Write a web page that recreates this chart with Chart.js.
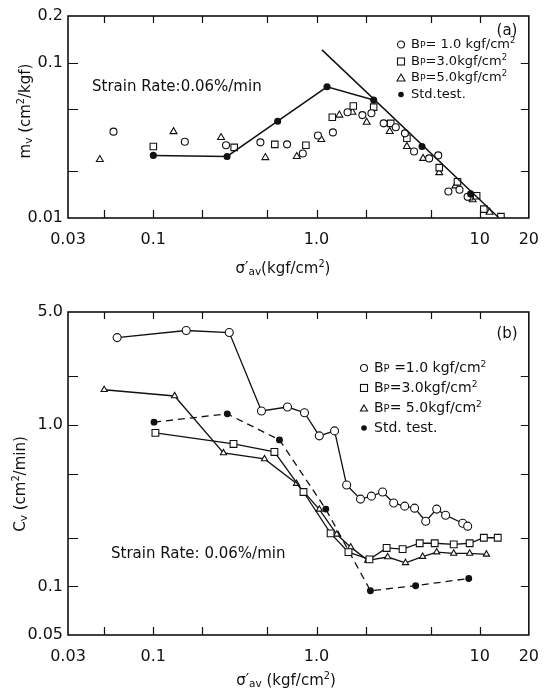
<!DOCTYPE html>
<html>
<head>
<meta charset="utf-8">
<script src="https://cdn.jsdelivr.net/npm/chart.js@4.4.0/dist/chart.umd.min.js"></script>
<style>
  body { margin: 0; background: #fff; }
  #page { position: relative; width: 551px; height: 692px; overflow: hidden; font-family: 'DejaVu Sans', sans-serif; color: #111; }
  canvas { position: absolute; left: 0; }
  #chartA { top: 0; }
  #chartB { top: 290px; }
  .t { position: absolute; white-space: nowrap; line-height: 1; }
  .c { transform: translate(-50%, -50%); }
  .l { transform: translateY(-50%); }
  .rot { transform: translate(-50%, -50%) rotate(-90deg); }
  .leg { font-size: 13px; }
  .leg svg { vertical-align: middle; margin-right: 5px; }
  .p { font-size: 0.72em; }
  sup { font-size: 0.65em; vertical-align: 0.55em; line-height: 0; }
  sub { font-size: 0.7em; vertical-align: -0.2em; line-height: 0; }
</style>
</head>
<body>
<div id="page">
  <canvas id="chartA" width="551" height="285"></canvas>
  <canvas id="chartB" width="551" height="402"></canvas>

  <!-- panel (a) text -->
  <div class="t c" style="left:507px; top:30px; font-size:15px;">(a)</div>
  <div class="t l" style="left:92px; top:86px; font-size:15px;">Strain Rate:0.06%/min</div>
  <div class="t rot" style="left:25px; top:111px; font-size:15px;">m<sub>v</sub> (cm<sup>2</sup>/kgf)</div>
  <div class="t c" style="left:283px; top:268px; font-size:15px;">σ′<sub>av</sub>(kgf/cm<sup>2</sup>)</div>
  <div class="t l leg" style="left:396px; top:43px;"><svg width="10" height="10"><circle cx="5" cy="5" r="3.5" fill="#fff" stroke="#111" stroke-width="1.1"/></svg>B<span class="p">P</span>= 1.0 kgf/cm<sup>2</sup></div>
  <div class="t l leg" style="left:396px; top:60px;"><svg width="10" height="10"><rect x="1.5" y="1.5" width="7" height="7" fill="#fff" stroke="#111" stroke-width="1.1"/></svg>B<span class="p">P</span>=3.0kgf/cm<sup>2</sup></div>
  <div class="t l leg" style="left:396px; top:76px;"><svg width="10" height="10"><polygon points="5,1.5 9,8.5 1,8.5" fill="#fff" stroke="#111" stroke-width="1.1"/></svg>B<span class="p">P</span>=5.0kgf/cm<sup>2</sup></div>
  <div class="t l leg" style="left:396px; top:93px;"><svg width="10" height="10"><circle cx="5" cy="5" r="2.8" fill="#111"/></svg>Std.test.</div>

  <!-- panel (b) text -->
  <div class="t c" style="left:507px; top:333px; font-size:15px;">(b)</div>
  <div class="t l" style="left:111px; top:553px; font-size:15px;">Strain Rate: 0.06%/min</div>
  <div class="t rot" style="left:20px; top:484px; font-size:15px;">C<sub>v</sub> (cm<sup>2</sup>/min)</div>
  <div class="t c" style="left:286px; top:680px; font-size:15px;">σ′<sub>av</sub> (kgf/cm<sup>2</sup>)</div>
  <div class="t l leg" style="left:359px; top:367px; font-size:14px;"><svg width="10" height="10"><circle cx="5" cy="5" r="3.5" fill="#fff" stroke="#111" stroke-width="1.1"/></svg>B<span class="p">P</span> =1.0 kgf/cm<sup>2</sup></div>
  <div class="t l leg" style="left:359px; top:387px; font-size:14px;"><svg width="10" height="10"><rect x="1.5" y="1.5" width="7" height="7" fill="#fff" stroke="#111" stroke-width="1.1"/></svg>B<span class="p">P</span>=3.0kgf/cm<sup>2</sup></div>
  <div class="t l leg" style="left:359px; top:407px; font-size:14px;"><svg width="10" height="10"><polygon points="5,2 8.5,8 1.5,8" fill="#fff" stroke="#111" stroke-width="1.1"/></svg>B<span class="p">P</span>= 5.0kgf/cm<sup>2</sup></div>
  <div class="t l leg" style="left:359px; top:427px; font-size:14px;"><svg width="10" height="10"><circle cx="5" cy="5" r="2.8" fill="#111"/></svg>Std. test.</div>
</div>

<script>
// axis ticks (shared x axis, per-panel y axis)
const xTicks = [0.03, 0.05, 0.1, 0.2, 0.5, 1, 2, 5, 10, 20];
const xTickText = ['0.03', '', '0.1', '', '', '1.0', '', '', '10', '20'];
const yTicksA = [0.01, 0.02, 0.05, 0.1, 0.2];
const yTickTextA = ['0.01', '', '', '0.1', '0.2'];
const yTicksB = [0.05, 0.1, 0.2, 0.5, 1, 2, 5];
const yTickTextB = ['0.05', '0.1', '', '', '1.0', '', '5.0'];

// panel (a): mv vs sigma'av  [x, y]
const mvBp1 = [[0.057,0.036],[0.156,0.031],[0.279,0.0294],[0.453,0.0307],[0.66,0.0298],[0.824,0.026],[1.02,0.034],[1.26,0.0356],[1.55,0.048],[1.91,0.046],[2.17,0.0473],[2.58,0.0407],[3.06,0.0384],[3.48,0.0351],[3.96,0.0268],[4.9,0.0242],[5.57,0.0253],[6.43,0.0148],[7.52,0.0152],[8.43,0.0137]];
const mvBp3 = [[0.1,0.0289],[0.313,0.0285],[0.555,0.0298],[0.861,0.0294],[1.25,0.0446],[1.68,0.0526],[2.24,0.0518],[2.85,0.0407],[3.58,0.0326],[5.65,0.0211],[7.31,0.0171],[8.67,0.0137],[9.58,0.0139],[10.6,0.0114],[13.5,0.0102]];
const mvBp5 = [[0.047,0.0238],[0.133,0.036],[0.26,0.033],[0.486,0.0245],[0.757,0.0249],[1.07,0.032],[1.38,0.046],[1.66,0.048],[2.03,0.0414],[2.81,0.0361],[3.58,0.0289],[4.5,0.0242],[5.65,0.0196],[7.1,0.0161],[9.05,0.0131],[11.5,0.0109]];
const mvStd = [[0.1,0.0253],[0.283,0.0249],[0.578,0.042],[1.16,0.070],[2.24,0.0575],[4.43,0.0289],[8.8,0.0143]];
const mvStdTrend = [[1.08,0.121],[13,0.0101]];

// panel (b): cv vs sigma'av  [x, y]
const cvBp1 = [[0.06,3.47],[0.159,3.84],[0.292,3.73],[0.46,1.22],[0.664,1.29],[0.844,1.19],[1.04,0.855],[1.29,0.918],[1.53,0.424],[1.86,0.347],[2.17,0.362],[2.54,0.384],[2.97,0.328],[3.47,0.314],[3.99,0.305],[4.67,0.253],[5.45,0.301],[6.18,0.276],[7.87,0.246],[8.44,0.236]];
const cvBp3 = [[0.103,0.892],[0.31,0.762],[0.552,0.68],[0.832,0.384],[1.22,0.213],[1.57,0.163],[2.11,0.147],[2.69,0.173],[3.37,0.170],[4.29,0.185],[5.3,0.185],[6.93,0.182],[8.68,0.185],[10.6,0.2],[12.9,0.2]];
const cvBp5 = [[0.05,1.65],[0.135,1.51],[0.269,0.67],[0.48,0.615],[0.754,0.433],[1.04,0.30],[1.33,0.21],[1.62,0.175],[2.06,0.145],[2.73,0.152],[3.51,0.140],[4.47,0.153],[5.45,0.163],[6.93,0.160],[8.68,0.160],[11.0,0.158]];
const cvStd = [[0.101,1.04],[0.284,1.17],[0.593,0.807],[1.14,0.301],[2.14,0.094],[4.05,0.101],[8.57,0.112]];

const INK = '#111';
Chart.defaults.font.family = "'DejaVu Sans', sans-serif";
Chart.defaults.color = INK;

function pts(arr) {
  return arr.map(p => ({ x: p[0], y: p[1] }));
}

// frame with inward tick marks on all four sides
const frameTicks = {
  id: 'frameTicks',
  afterDraw(chart) {
    const { ctx, chartArea: a, scales } = chart;
    const x = scales.x, y = scales.y;
    ctx.save();
    ctx.strokeStyle = INK;
    ctx.lineWidth = 1.6;
    ctx.strokeRect(a.left, a.top, a.right - a.left, a.bottom - a.top);
    ctx.lineWidth = 1.2;
    ctx.beginPath();
    x.ticks.forEach(t => {
      const px = Math.round(x.getPixelForValue(t.value)) + 0.5;
      if (px <= a.left + 2 || px >= a.right - 2) return;
      ctx.moveTo(px, a.bottom); ctx.lineTo(px, a.bottom - 8);
      ctx.moveTo(px, a.top); ctx.lineTo(px, a.top + 7);
    });
    y.ticks.forEach(t => {
      const py = Math.round(y.getPixelForValue(t.value)) + 0.5;
      if (py <= a.top + 2 || py >= a.bottom - 2) return;
      ctx.moveTo(a.left, py); ctx.lineTo(a.left + 10, py);
      ctx.moveTo(a.right, py); ctx.lineTo(a.right - 8, py);
    });
    ctx.stroke();
    ctx.restore();
  }
};

function makeScales(yMin, yMax, yTicks, yText, xHeight) {
  return {
    x: {
      type: 'logarithmic',
      min: 0.03,
      max: 20,
      grid: { display: false, drawTicks: false },
      border: { display: false },
      afterBuildTicks: s => { s.ticks = xTicks.map(v => ({ value: v })); },
      afterFit: s => { s.height = xHeight; },
      ticks: {
        autoSkip: false,
        maxRotation: 0,
        padding: 12,
        font: { size: 16 },
        callback: (v, i) => xTickText[i]
      }
    },
    y: {
      type: 'logarithmic',
      min: yMin,
      max: yMax,
      grid: { display: false, drawTicks: false },
      border: { display: false },
      afterBuildTicks: s => { s.ticks = yTicks.map(v => ({ value: v })); },
      afterFit: s => { s.width = 68; },
      ticks: {
        autoSkip: false,
        padding: 5,
        font: { size: 16 },
        callback: (v, i) => yText[i]
      }
    }
  };
}

function openSet(data, style, radius, line) {
  return {
    data: pts(data),
    pointStyle: style,
    pointRadius: radius,
    pointBackgroundColor: '#fff',
    pointBorderColor: INK,
    pointBorderWidth: 1.1,
    borderColor: INK,
    borderWidth: 1.3,
    showLine: line
  };
}

const baseOptions = {
  responsive: false,
  animation: false,
  devicePixelRatio: 1,
  plugins: { legend: { display: false }, tooltip: { enabled: false } }
};

// Panel (a)
new Chart(document.getElementById('chartA'), {
  type: 'scatter',
  data: {
    datasets: [
      {
        data: pts(mvStd),
        pointStyle: 'circle',
        pointRadius: 2.8,
        pointBackgroundColor: INK,
        pointBorderColor: INK,
        borderColor: INK,
        borderWidth: 1.5,
        showLine: true,
        // the last points sit on the straight trend line, not on this polyline
        segment: { borderColor: c => c.p0DataIndex >= 4 ? 'rgba(0,0,0,0)' : INK }
      },
      {
        data: pts(mvStdTrend),
        pointRadius: 0,
        borderColor: INK,
        borderWidth: 1.5,
        showLine: true
      },
      openSet(mvBp1, 'circle', 3.5, false),
      openSet(mvBp3, 'rect', 4.6, false),
      openSet(mvBp5, 'triangle', 4, false)
    ]
  },
  options: Object.assign({}, baseOptions, {
    layout: { padding: { left: 0, right: 21, top: 16, bottom: 0 } },
    scales: makeScales(0.01, 0.2, yTicksA, yTickTextA, 67)
  }),
  plugins: [frameTicks]
});

// Panel (b)
new Chart(document.getElementById('chartB'), {
  type: 'scatter',
  data: {
    datasets: [
      openSet(cvBp1, 'circle', 4, true),
      openSet(cvBp3, 'rect', 4.8, true),
      openSet(cvBp5, 'triangle', 3.6, true),
      {
        data: pts(cvStd),
        pointStyle: 'circle',
        pointRadius: 2.8,
        pointBackgroundColor: INK,
        pointBorderColor: INK,
        borderColor: INK,
        borderWidth: 1.3,
        borderDash: [7, 5],
        showLine: true
      }
    ]
  },
  options: Object.assign({}, baseOptions, {
    layout: { padding: { left: 0, right: 21, top: 22, bottom: 0 } },
    scales: makeScales(0.05, 5, yTicksB, yTickTextB, 57)
  }),
  plugins: [frameTicks]
});
</script>
</body>
</html>
